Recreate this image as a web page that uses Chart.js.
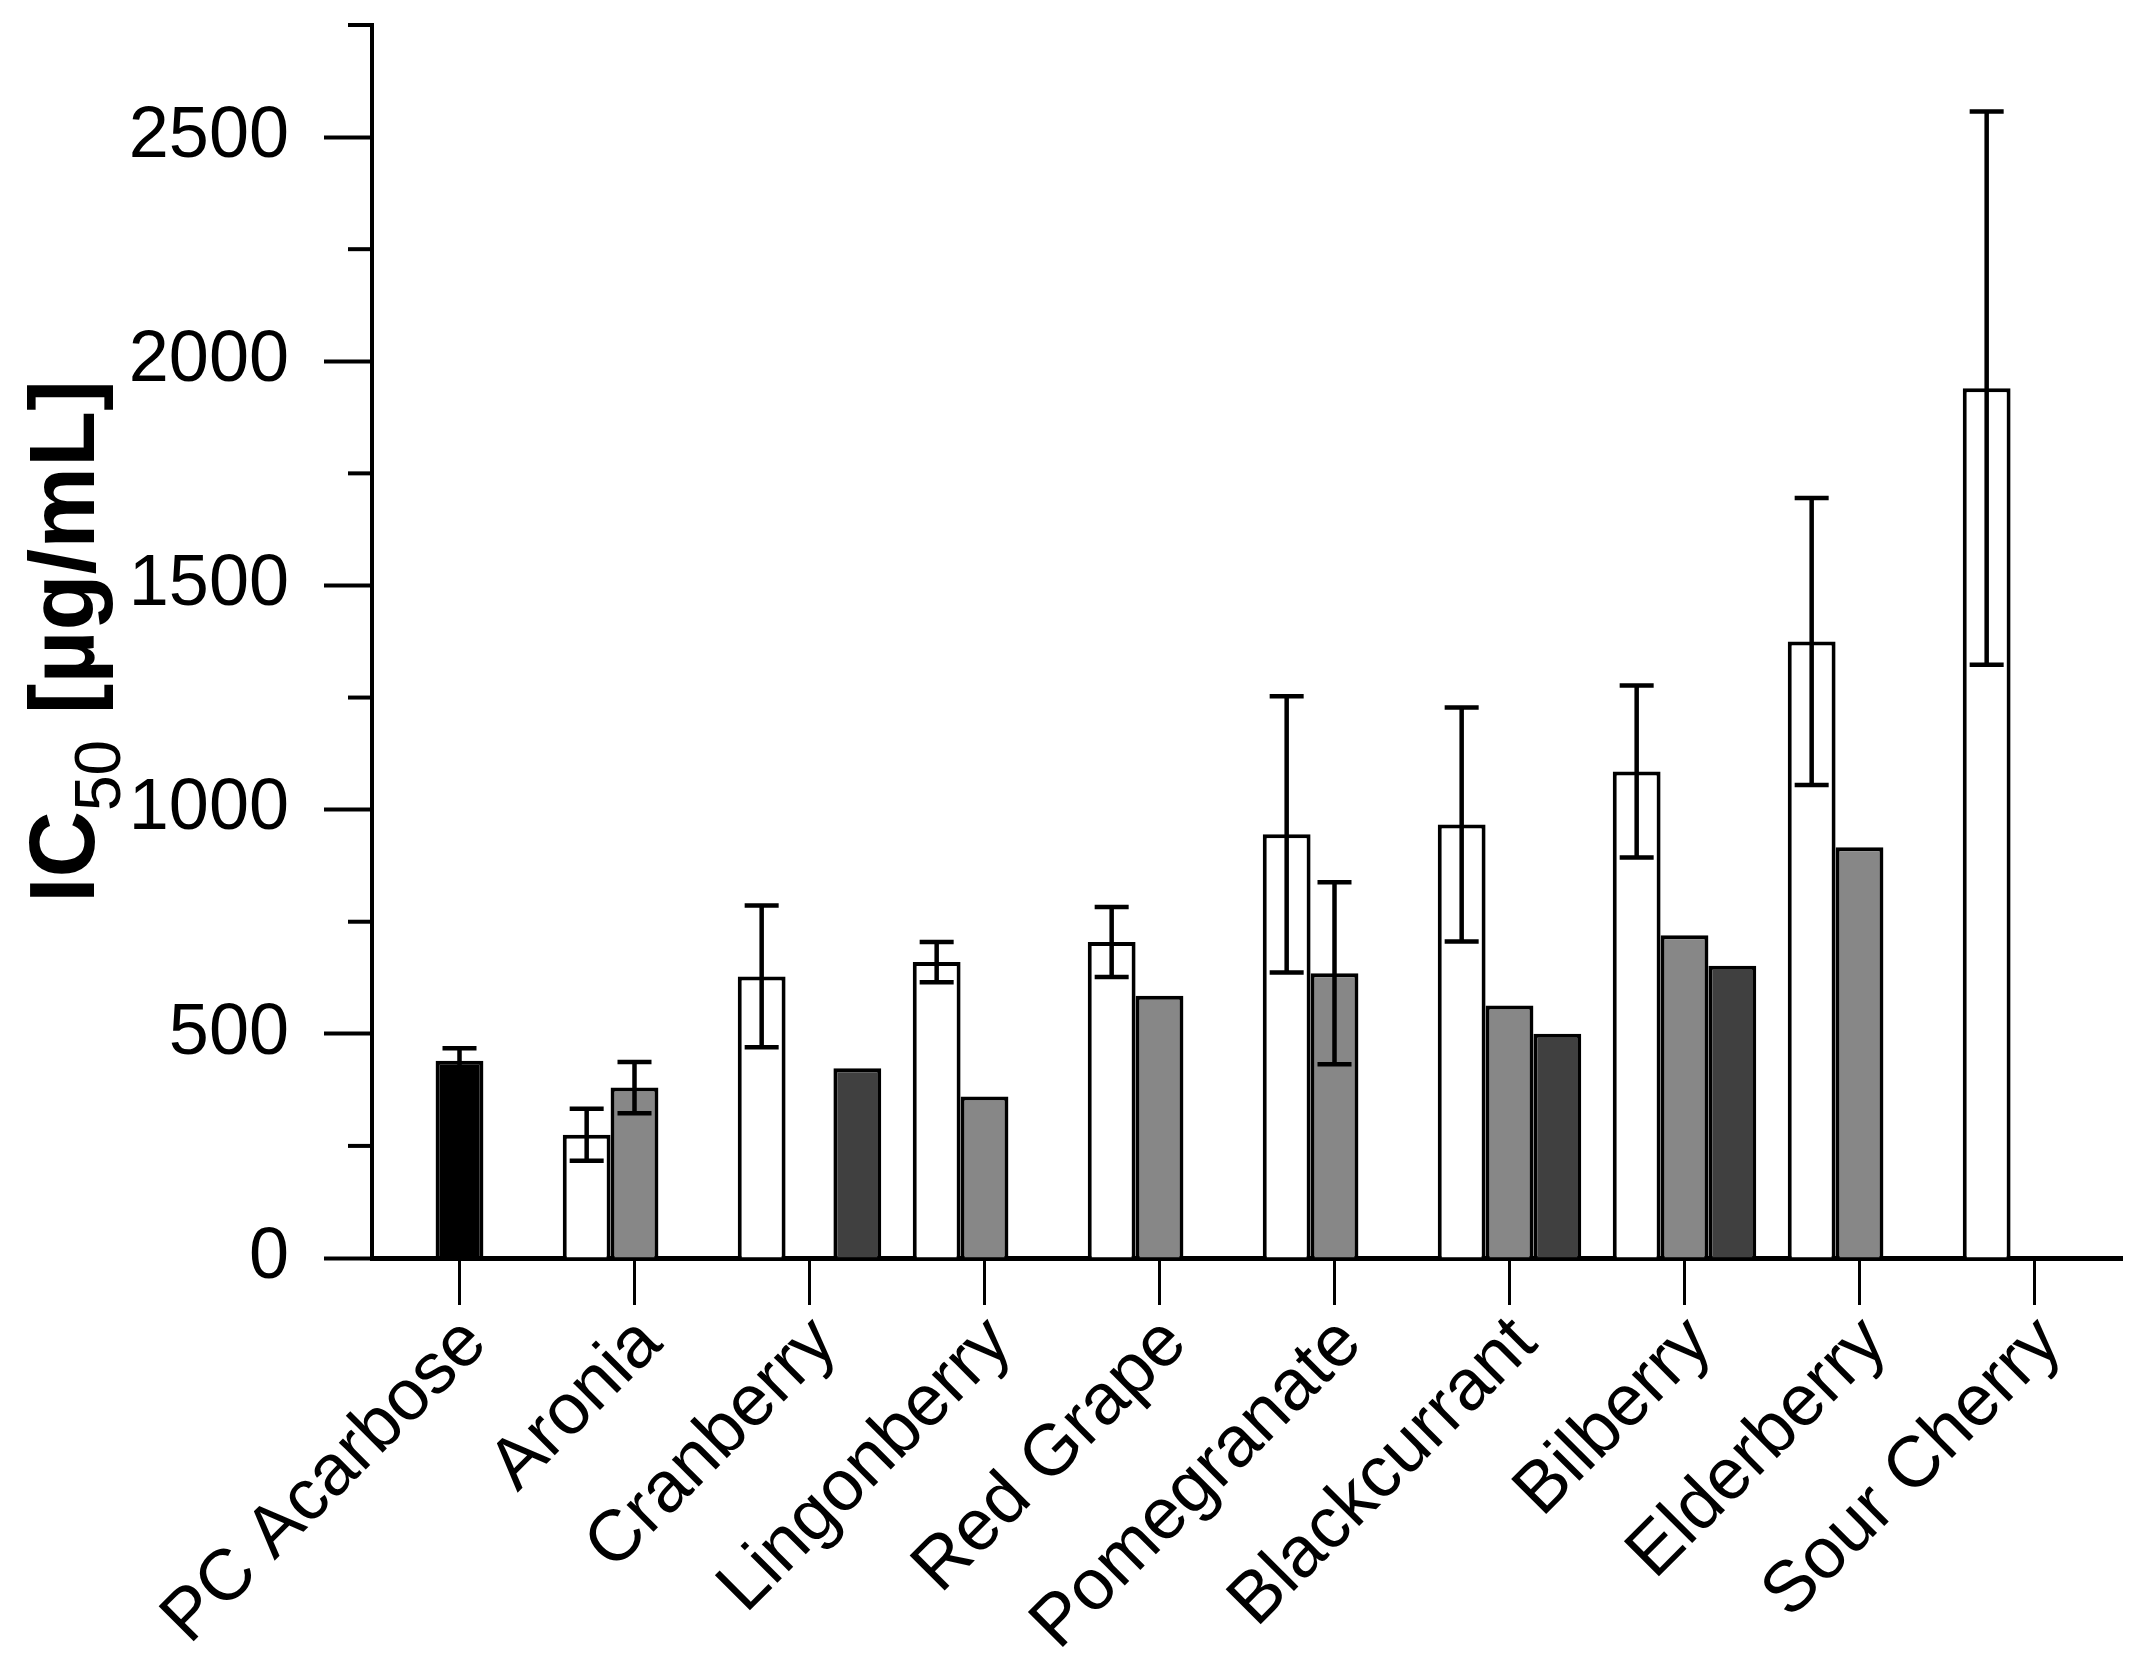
<!DOCTYPE html>
<html>
<head>
<meta charset="utf-8">
<script src="https://cdn.jsdelivr.net/npm/chart.js@4/dist/chart.umd.min.js"></script>
<style>
  body { margin: 0; background: #fff; }
  #wrap { width: 2144px; height: 1679px; }
</style>
</head>
<body>
<div id="wrap"><canvas id="bar-chart" width="2144" height="1679"></canvas></div>
<script>
// categories on the x axis
const fruits = ['PC Acarbose', 'Aronia', 'Cranberry', 'Lingonberry', 'Red Grape',
    'Pomegranate', 'Blackcurrant', 'Bilberry', 'Elderberry', 'Sour Cherry'];

// IC50 values (µg/mL), three extracts per fruit, null = no bar
const whiteVals = [null, 275, 628, 660, 705, 945, 967, 1085, 1375, 1940];
const greyVals  = [440, 380, null, 360, 585, 635, 563, 720, 916, null];
const darkVals  = [null, null, 423, null, null, null, 500, 652, null, null];

// standard deviations, null = no error bar
const whiteErr = [null, 58, 158, 45, 78, 308, 261, 192, 320, 617];
const greyErr  = [28, 57, null, null, null, 203, null, null, null, null];

// y axis ticks
const yMax = 2750;
const yStep = 250;
const yLabelStep = 500;

const FONT = "'Liberation Sans', Arial, sans-serif";

// error bars drawn on top of the bars
const errorBars = {
    id: 'errorBars',
    afterDatasetsDraw(chart) {
        const ctx = chart.ctx;
        const y = chart.scales.y;
        ctx.save();
        ctx.strokeStyle = '#000';
        ctx.lineWidth = 4.5;
        chart.data.datasets.forEach((ds, di) => {
            if (!ds.errors) return;
            const meta = chart.getDatasetMeta(di);
            ds.errors.forEach((err, i) => {
                if (err == null || ds.data[i] == null) return;
                const x = meta.data[i].x;
                const top = y.getPixelForValue(ds.data[i] + err);
                const bot = y.getPixelForValue(ds.data[i] - err);
                const cap = 17;
                ctx.beginPath();
                ctx.moveTo(x, top); ctx.lineTo(x, bot);
                ctx.moveTo(x - cap, top); ctx.lineTo(x + cap, top);
                ctx.moveTo(x - cap, bot); ctx.lineTo(x + cap, bot);
                ctx.stroke();
            });
        });
        ctx.restore();
    }
};

// short minor ticks on the y axis + the y title with a real subscript
const axisExtras = {
    id: 'axisExtras',
    afterDraw(chart) {
        const ctx = chart.ctx;
        const y = chart.scales.y;
        const left = chart.chartArea.left;
        ctx.save();
        ctx.strokeStyle = '#000';
        ctx.lineWidth = 4;
        for (let v = yStep; v <= yMax; v += yStep) {
            if (v % yLabelStep === 0) continue;
            const py = y.getPixelForValue(v);
            ctx.beginPath();
            ctx.moveTo(left - 24, py); ctx.lineTo(left, py);
            ctx.stroke();
        }

        // y axis title: IC50 [µg/mL]
        ctx.translate(94, 903);
        ctx.rotate(-Math.PI / 2);
        ctx.fillStyle = '#000';
        ctx.textBaseline = 'alphabetic';
        ctx.font = 'bold 92px ' + FONT;
        ctx.fillText('IC', 0, 0);
        let x = ctx.measureText('IC').width;
        ctx.font = '64px ' + FONT;
        ctx.fillText('50', x, 26);
        x += ctx.measureText('50').width;
        ctx.font = 'bold 92px ' + FONT;
        ctx.fillText(' [µg/mL]', x, 0);
        ctx.restore();
    }
};

const barEl = document.getElementById('bar-chart');

const barChart = new Chart(barEl, {
type: 'bar',
data: {
    labels: fruits,
    datasets: [{
        label: 'Extract 1',
        data: whiteVals,
        errors: whiteErr,
        backgroundColor: '#ffffff',
        borderColor: '#000',
        borderWidth: 4
    }, {
        label: 'Extract 2',
        data: greyVals,
        errors: greyErr,
        // acarbose (positive control) is the black bar
        backgroundColor: fruits.map((f, i) => i === 0 ? '#000000' : '#878787'),
        borderColor: '#000',
        borderWidth: 4
    }, {
        label: 'Extract 3',
        data: darkVals,
        backgroundColor: '#404040',
        borderColor: '#000',
        borderWidth: 4
    }]
},
options: {
    responsive: false,
    animation: false,
    devicePixelRatio: 1,
    categoryPercentage: 0.82,
    barPercentage: 1,
    layout: {
        padding: { top: 25, right: 22, left: 0, bottom: 0 }
    },
    plugins: {
        legend: { display: false },
        tooltip: { enabled: false }
    },
    scales: {
        x: {
            grid: {
                offset: false,
                drawOnChartArea: false,
                tickLength: 47,
                tickWidth: 3,
                tickColor: '#000'
            },
            border: { color: '#000', width: 5 },
            ticks: {
                color: '#000',
                autoSkip: false,
                maxRotation: 45,
                minRotation: 45,
                padding: -4,
                labelOffset: 16,
                font: { family: FONT, size: 72 }
            },
            afterFit: scale => {
                scale.height = 421;
                scale.paddingLeft = 0;
                scale.paddingRight = 0;
            }
        },
        y: {
            min: 0,
            max: yMax,
            grid: {
                drawOnChartArea: false,
                tickLength: 48,
                tickWidth: 4,
                tickColor: c => (c.tick && c.tick.value % yLabelStep === 0) ? '#000' : 'rgba(0,0,0,0)'
            },
            border: { color: '#000', width: 4 },
            ticks: {
                stepSize: yStep,
                color: '#000',
                padding: 35,
                font: { family: FONT, size: 72 },
                callback: v => v % yLabelStep === 0 ? v : ''
            },
            afterFit: scale => {
                scale.width = 372;
                scale.paddingTop = 0;
                scale.paddingBottom = 0;
            }
        }
    }
},
plugins: [errorBars, axisExtras]
});
</script>
</body>
</html>
